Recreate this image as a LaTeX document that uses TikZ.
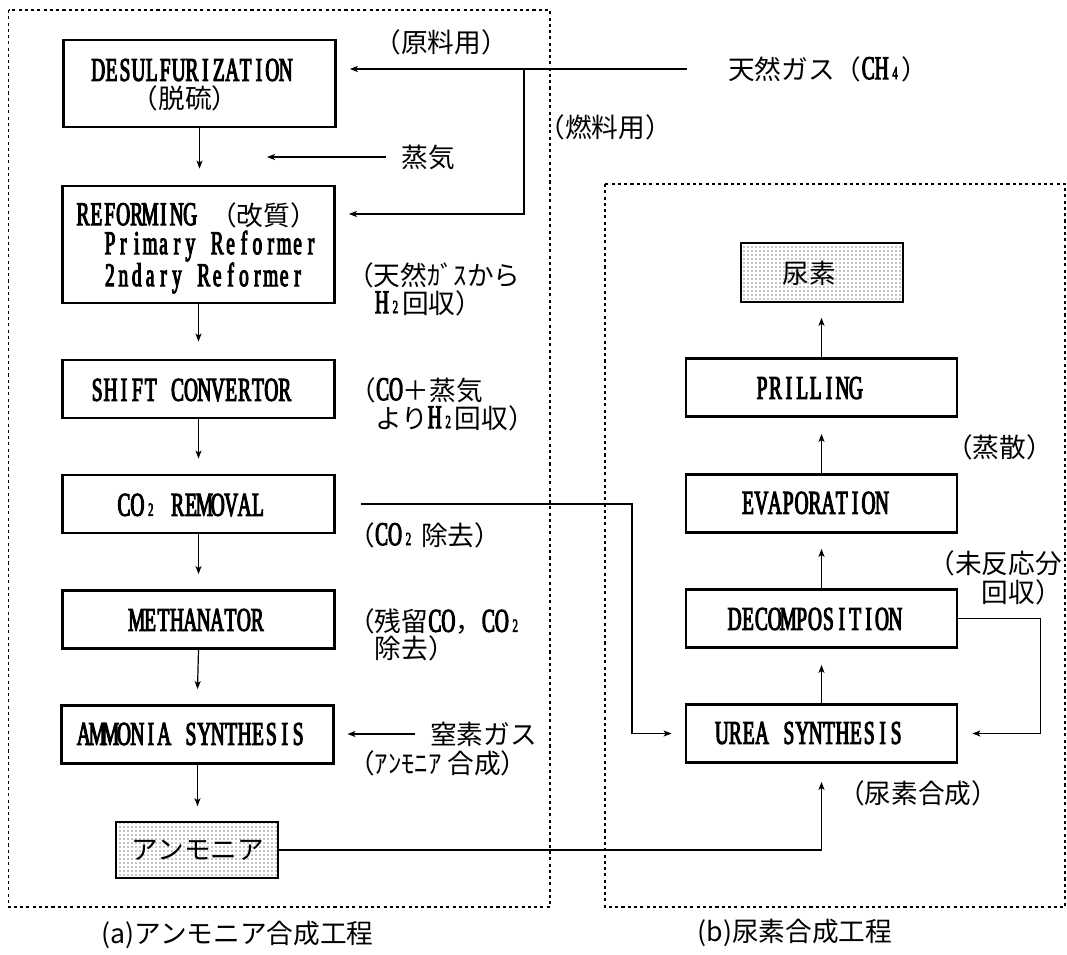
\documentclass[tikz,border=0pt]{standalone}
\usepackage{fontspec}
\newfontfamily\jp{Noto Sans CJK JP}
\newfontfamily\lat{Liberation Serif}[FakeStretch=0.58, FakeBold=3]
\usetikzlibrary{arrows.meta,patterns}
\newcommand\jpf{\jp\mdseries\fontsize{20pt}{24pt}\selectfont}
\newcommand\jpfs[1]{\jp\mdseries\fontsize{20pt}{#1}\selectfont}
\newcommand\latf{\lat\fontsize{25pt}{27pt}\selectfont}
\newcommand\latfs{\lat\fontsize{25pt}{21pt}\selectfont}
\ExplSyntaxOn
\NewDocumentCommand\mono{m}{\tl_map_inline:nn {#1} {\hbox_to_wd:nn {10.05pt} {\hss ##1 \hss}}}
\ExplSyntaxOff
\newcommand\msp{\hspace*{10.05pt}}
\newcommand\M[1]{\smash{\latf\mono{#1}}}
\newcommand\subn[1]{\hbox to 10.05pt{\hfil\lat\fontsize{14pt}{14pt}\selectfont #1\hfil}}
\begin{document}
\begin{tikzpicture}[x=0.75pt,y=-0.75pt,
  box/.style={draw, line width=2.1pt, minimum width=204pt, minimum height=43.5pt, inner sep=0pt},
  rbox/.style={box, minimum width=203.25pt},
  prod/.style={draw, line width=1.2pt, pattern=dots, minimum width=121.5pt, inner sep=0pt},
  frame/.style={draw, line width=1pt, dash pattern=on 2.3pt off 2.4pt},
  lt/.style={inner sep=0pt, font=\latf},
  jl/.style={inner sep=0pt, font=\jpf},
  captxt/.style={inner sep=0pt, font=\jp\fontsize{20pt}{24pt}\selectfont},
  conn/.style={line width=0.9pt},
  arr/.style={conn, -{Stealth[length=6pt,width=4.5pt,inset=1.5pt]}}]
\useasboundingbox (0,0) rectangle (1067,955);
% frames
\draw[frame] (8.5,10) rectangle (550,907);
\draw[frame] (605,184) rectangle (1065,907);
% left column boxes
\node[box, minimum height=65.25pt] (des) at (199.5,83.5) {};
\node[lt] (desA) at (192,70) {\mono{DESULFURIZATION}};
\node[jl] (desB) at (185,98) {（脱硫）};
\node[box, minimum height=87.75pt] (ref) at (198.5,244.5) {};
\node[lt, anchor=west] (refA) at (76,215) {\mono{REFORMING}\msp\jpf（改質）};
\node[anchor=west, align=left, inner sep=0pt, font=\latfs] (refB) at (103,262) {\mono{Primary}\msp\mono{Reformer}\\\mono{2ndary}\msp\mono{Reformer}};
\node[box] (shift) at (198.5,389) {};
\node[lt] (shiftT) at (191,390) {\mono{SHIFT}\msp\mono{CONVERTOR}};
\node[box] (co2) at (198.5,504) {};
\node[lt] (co2T) at (191,505) {\mono{CO}\subn{2}\msp\mono{REMOVAL}};
\node[box] (meth) at (198.5,619.5) {};
\node[lt] (methT) at (197,620) {\mono{METHANATOR}};
\node[box] (amm) at (197.5,734.5) {};
\node[lt] (ammT) at (191,734) {\mono{AMMONIA}\msp\mono{SYNTHESIS}};
\node[prod, minimum height=42pt] (ammo) at (197,850) {};
\node[jl] (ammoT) at (198,850) {アンモニア};
% right column boxes
\node[prod, minimum height=44.25pt] (urea) at (822,272.5) {};
\node[jl] (ureaT) at (809,273) {尿素};
\node[rbox] (prill) at (821.5,387.5) {};
\node[lt] (prillT) at (809,388) {\mono{PRILLING}};
\node[rbox] (evap) at (821.5,503.5) {};
\node[lt] (evapT) at (815,503) {\mono{EVAPORATION}};
\node[rbox] (decomp) at (821.5,618.5) {};
\node[lt] (decompT) at (815,619) {\mono{DECOMPOSITION}};
\node[rbox] (ureas) at (821.5,733.5) {};
\node[lt] (ureasT) at (809,733) {\mono{UREA}\msp\mono{SYNTHESIS}};
% labels
\node[jl] (raw) at (441,42) {（原料用）};
\node[jl] (fuelL) at (605,127) {（燃料用）};
\node[jl, anchor=west] (gas) at (728,69) {天然ガス（\M{CH}\subn{4}）};
\node[jl] (steam) at (428.5,157) {蒸気};
\node[anchor=west, align=left, inner sep=0pt, font={\jpfs{21pt}}] (l1) at (347,289) {（天然ｶﾞｽから\\\hspace*{21pt}\M{H}\subn{2}回収）};
\node[anchor=west, align=left, inner sep=0pt, font={\jpfs{21pt}}] (l2) at (349,404) {（\M{CO}＋蒸気\\\hspace*{19.5pt}より\M{H}\subn{2}回収）};
\node[jl, anchor=west] (l3) at (348,535) {（\M{CO}\subn{2} 除去）};
\node[anchor=west, align=left, inner sep=0pt, font={\jpfs{20pt}}] (l4) at (348,635) {（残留\M{CO}，\M{CO}\subn{2}\\\hspace*{20pt}除去）};
\node[jl, anchor=west] (n2) at (430,734) {窒素ガス};
\node[jl, anchor=west] (l5) at (348,763) {（ｱﾝﾓﾆｱ 合成）};
\node[jl, anchor=west] (l6) at (946,447) {（蒸散）};
\node[anchor=east, align=right, inner sep=0pt, font={\jpfs{21.75pt}}] (l7) at (1062,577.5) {（未反応分\\回収）};
\node[jl, anchor=west] (l8) at (838,793) {（尿素合成）};
\node[captxt] (capA) at (237.5,935) {(a)アンモニア合成工程};
\node[captxt] (capB) at (795,933) {(b)尿素合成工程};
% coordinates
\coordinate (split) at (524,69);
\coordinate (fuel) at (524,214);
\coordinate (steamtip) at (267,157);
\coordinate (co2turn) at (632,504);
% connectors
\draw[arr] ([xshift=-30.75pt]gas.west) -- ([xshift=9.75pt]gas.west -| des.east);
\draw[arr] (split) -- (fuel) -- ([xshift=9.75pt]fuel -| ref.east);
\draw[arr] ([xshift=-12pt]steam.west) -- (steamtip);
\draw[arr] (des.south) -- ([yshift=12pt]des.south |- ref.north);
\draw[arr] (ref.south) -- ([yshift=12.75pt]shift.north);
\draw[arr] (shift.south) -- ([yshift=11.25pt]co2.north);
\draw[arr] (co2.south) -- ([yshift=11.25pt]meth.north);
\draw[arr] (meth.south) -- ([yshift=11.25pt]amm.north);
\draw[arr] (amm.south) -- ([yshift=11.25pt]amm.south |- ammo.north);
\draw[arr] ([xshift=-11pt]n2.west) -- ([xshift=9.4pt]n2.west -| amm.east);
\draw[arr] (ureas.north) -- ([yshift=-12pt]decomp.south);
\draw[arr] (decomp.north) -- ([yshift=-11.25pt]evap.south);
\draw[arr] (evap.north) -- ([yshift=-12pt]prill.south);
\draw[arr] (prill.north) -- ([yshift=-11.25pt]prill.north |- urea.south);
\draw[arr] ([xshift=18.75pt]co2.east) -- (co2turn) |- ([xshift=-9.75pt]ureas.west);
\draw[arr] (decomp.east) -- ++(82,0) |- ([xshift=10.5pt]ureas.east);
\draw[arr] (ammo.east) -| ([yshift=-13.5pt]ureas.south);
\end{tikzpicture}
\end{document}
